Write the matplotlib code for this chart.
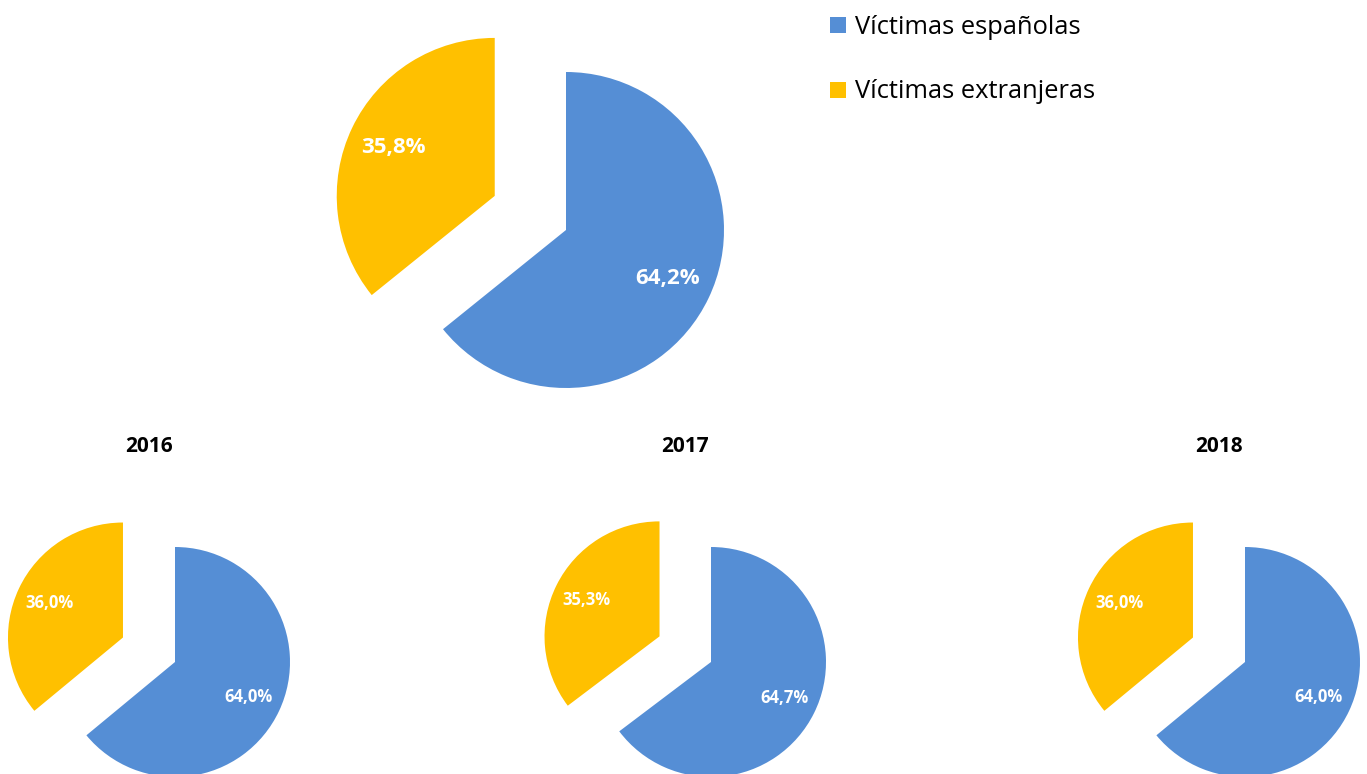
import matplotlib
matplotlib.use("Agg")
import matplotlib.pyplot as plt
from matplotlib.patches import Rectangle

plt.rcParams['font.family'] = ['Open Sans', 'DejaVu Sans']

categories = ["Víctimas españolas", "Víctimas extranjeras"]
colors = ["#558ED5", "#FFC000"]

total_values = [64.2, 35.8]

years = ["2016", "2017", "2018"]
espanolas = [64.0, 64.7, 64.0]
extranjeras = [36.0, 35.3, 36.0]

W, H = 1367, 774
fig = plt.figure(figsize=(W / 100, H / 100), dpi=100)


def fmt(p):
    return f"{p:.1f}%".replace(".", ",")


def draw_pie(vals, cx, cy, R, fontsize):
    # axes spanning [-2, 2] data units around centre, 1 unit = R pixels
    left = (cx - 2 * R) / W
    bottom = (H - (cy + 2 * R)) / H
    ax = fig.add_axes([left, bottom, 4 * R / W, 4 * R / H])
    ax.pie(vals, colors=colors, startangle=90, counterclock=False,
           explode=[0, 0.5], radius=1, autopct=fmt, pctdistance=0.71,
           textprops=dict(color="white", fontsize=fontsize, fontweight="bold"),
           wedgeprops=dict(linewidth=0), frame=False)
    ax.set_xlim(-2, 2)
    ax.set_ylim(-2, 2)
    ax.set_aspect("equal")
    ax.axis("off")
    return ax


draw_pie(total_values, 566, 230, 158, 16)

centers_x = [175, 711, 1245]
for yr, e, x, cx in zip(years, espanolas, extranjeras, centers_x):
    draw_pie([e, x], cx, 662, 115, 12)
    fig.text((cx - 26) / W, 1 - 447 / H, yr, ha="center", va="center",
             fontsize=15, fontweight="bold", color="black")

# legend
for i, (lab, col) in enumerate(zip(categories, colors)):
    yc = 25 + i * 65
    fig.patches.append(Rectangle(((830) / W, 1 - (yc + 8) / H), 16 / W, 16 / H,
                                 transform=fig.transFigure, facecolor=col,
                                 edgecolor="none"))
    fig.text(855 / W, 1 - (yc + 2) / H, lab, ha="left", va="center",
             fontsize=18.4, color="black")

fig.savefig("out.png", dpi=100)
